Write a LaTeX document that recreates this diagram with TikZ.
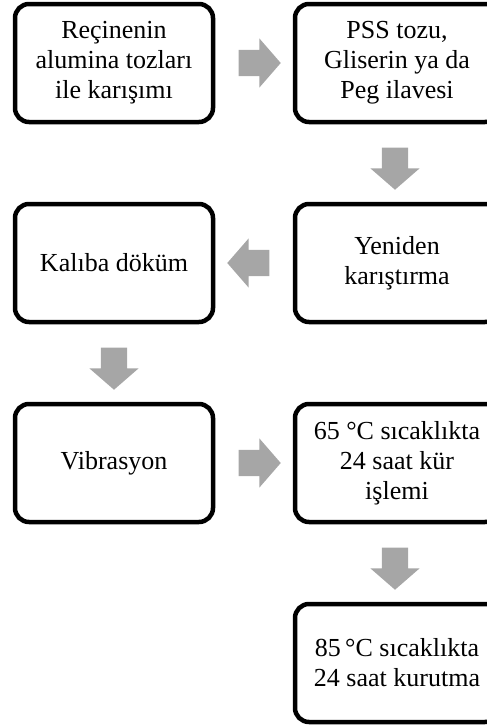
\documentclass[tikz,border=0pt]{standalone}
\usepackage{fontspec}
\setmainfont{Liberation Serif}
\usepackage{xcolor}
\usepackage{tikz}
\usetikzlibrary{calc,shapes.arrows}
\definecolor{border}{HTML}{000000}
\definecolor{arrowgray}{HTML}{A6A6A6}
\tikzset{
  box/.style={draw=border, line width=4.5pt, rounded corners=14pt, minimum width=198pt, minimum height=118pt, inner sep=0pt, align=center, font=\fontsize{26}{30}\selectfont},
  boxR/.style={box, minimum width=204pt},
  arr/.style={single arrow, fill=arrowgray, draw=none, minimum height=42pt, inner xsep=0pt, inner ysep=13pt, single arrow head extend=11.5pt, single arrow tip angle=98},
  arrV/.style={arr, inner xsep=13pt, inner ysep=0pt}
}

\begin{document}
\begin{tikzpicture}[x=1pt, y=-1pt]
  \useasboundingbox (0,0) rectangle (487,728);
  % boxes
  \node[box] (mix) at (114,63) {Reçinenin\\alumina tozları\\ile karışımı};
  \node[boxR] (add) at (397,63) {PSS tozu,\\Gliserin ya da\\Peg ilavesi};
  \node[boxR] (remix) at (397,263) {Yeniden\\karıştırma};
  \node[box] (cast) at (114,263) {Kalıba döküm};
  \node[box] (vib) at (114,463) {Vibrasyon};
  \node[boxR] (cure) at (397,463) {65 °C sıcaklıkta\\24 saat kür\\işlemi};
  \node[boxR] (dry) at (397,663) {85\,°C sıcaklıkta\\24 saat kurutma};

  % arrows
  \node[arr] (a1) at ($(mix.east)!0.5!(add.west)$) {};
  \node[arrV, shape border rotate=270] (a2) at ($(add.south)!0.5!(remix.north) + (-2,0)$) {};
  \node[arr, shape border rotate=180] (a3) at ($(remix.west)!0.5!(cast.east)$) {};
  \node[arrV, shape border rotate=270] (a4) at ($(cast.south)!0.5!(vib.north)$) {};
  \node[arr] (a5) at ($(vib.east)!0.5!(cure.west)$) {};
  \node[arrV, shape border rotate=270] (a6) at ($(cure.south)!0.5!(dry.north) + (-2,0)$) {};
\end{tikzpicture}
\end{document}
